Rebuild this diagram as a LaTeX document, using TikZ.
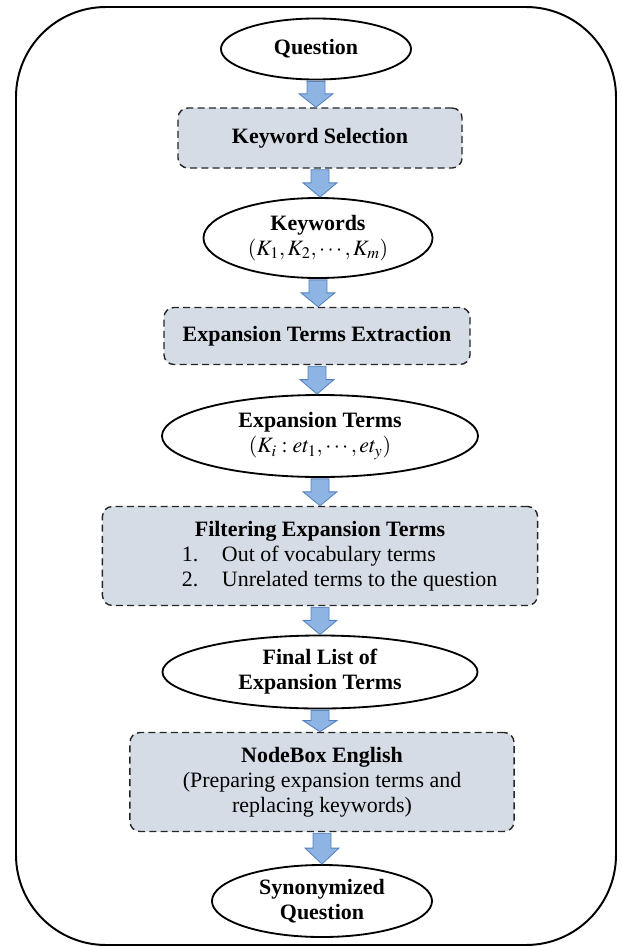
\documentclass[tikz,border=0pt]{standalone}
\usepackage{mathptmx}
\usepackage{fontspec}
\setmainfont{Liberation Serif}
\usetikzlibrary{shapes.geometric}
\usetikzlibrary{calc}

\definecolor{arrowfill}{RGB}{141,180,226}
\definecolor{arrowline}{RGB}{84,130,190}
\definecolor{boxfill}{RGB}{214,220,229}

\newcommand{\flowarrow}[2]{%
  \draw[flow] let \p1=(#1.south), \p2=(#2.north), \p3=($(#1.south)!0.5!(#2.north)$) in
    (\x1-6.4pt,\y1-0.7pt) -- (\x1+6.4pt,\y1-0.7pt) -- (\x1+6.4pt,\y3) -- (\x1+12pt,\y3)
    -- (\x1,\y2) -- (\x1-12pt,\y3) -- (\x1-6.4pt,\y3) -- cycle;}

\begin{document}
\begin{tikzpicture}
[x=0.025cm,y=-0.025cm,%
  every node/.style={align=center,inner sep=0pt,font=\fontsize{15.6}{17.8}\selectfont},%
  term/.style={ellipse,draw,line width=1.3pt,fill=white},%
  stage/.style={rectangle,rounded corners=0.25cm,draw=black!85,dash pattern=on 5pt off 3pt,line width=1pt,fill=boxfill},%
  flow/.style={draw=arrowline,fill=arrowfill,line width=0.6pt}]
\useasboundingbox (0,0) rectangle (621,947);
\draw[line width=1.4pt,rounded corners=2.25cm] (16,7) rectangle (616,945);

\node[term,minimum width=4.75cm,minimum height=1.525cm] (question) at (316,49)
  {\textbf{Question}};
\node[stage,minimum width=7.1cm,minimum height=1.5cm] (selection) at (320,138)
  {\textbf{Keyword Selection}};
\node[term,minimum width=5.725cm,minimum height=2cm] (keywords) at (318,238)
  {\textbf{Keywords}\\$(K_1, K_2, \cdots, K_m)$};
\node[stage,minimum width=7.65cm,minimum height=1.425cm] (extraction) at (317,336)
  {\textbf{Expansion Terms Extraction}};
\node[term,minimum width=7.9cm,minimum height=2.05cm] (terms) at (320,436)
  {\textbf{Expansion Terms}\\$(K_i : et_1, \cdots, et_y)$};
\node[stage,minimum width=10.875cm,minimum height=2.475cm] (filtering) at (320,556)
  {\textbf{Filtering Expansion Terms}\\
   \makebox[6.9cm][l]{\makebox[1cm][l]{1.}Out of vocabulary terms}\\
   \makebox[6.9cm][l]{\makebox[1cm][l]{2.}Unrelated terms to the question}};
\node[term,minimum width=7.875cm,minimum height=1.825cm] (final) at (320,672)
  {\textbf{Final List of}\\\textbf{Expansion Terms}};
\node[stage,minimum width=9.6cm,minimum height=2.475cm] (nodebox) at (322,782)
  {\textbf{NodeBox English}\\(Preparing expansion terms and\\replacing keywords)};
\node[term,minimum width=5.5cm,minimum height=1.8cm] (synonymized) at (322,901)
  {\textbf{Synonymized}\\\textbf{Question}};

\flowarrow{question}{selection}
\flowarrow{selection}{keywords}
\flowarrow{keywords}{extraction}
\flowarrow{extraction}{terms}
\flowarrow{terms}{filtering}
\flowarrow{filtering}{final}
\flowarrow{final}{nodebox}
\flowarrow{nodebox}{synonymized}
\end{tikzpicture}
\end{document}
